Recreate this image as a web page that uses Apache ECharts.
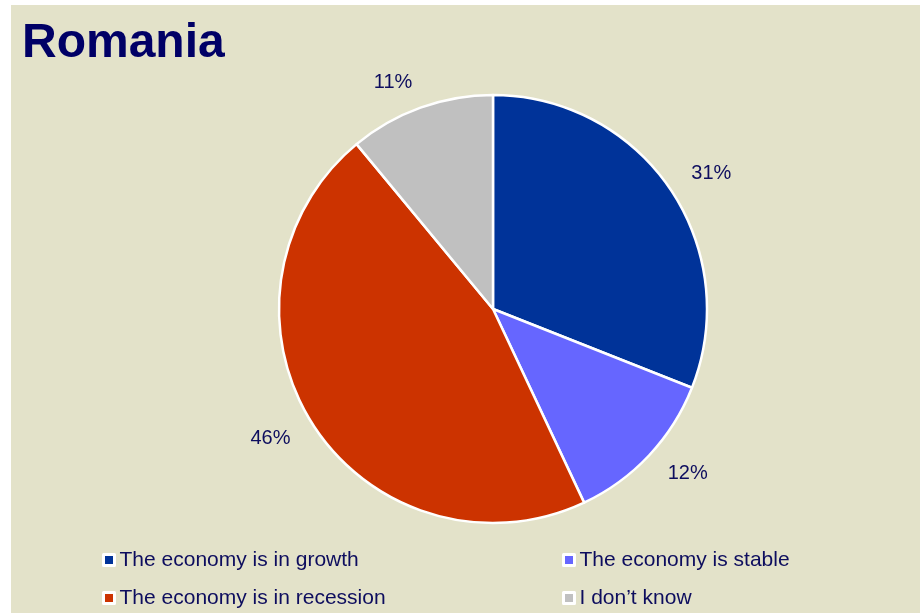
<!DOCTYPE html>
<html>
<head>
<meta charset="utf-8">
<script src="https://cdn.jsdelivr.net/npm/echarts@6/dist/echarts.min.js"></script>
<style>
html,body{margin:0;padding:0;background:#ffffff;}
#chart{width:920px;height:613px;}
</style>
</head>
<body>
<div id="chart"></div>
<script>
var titleText = 'Romania';
var categories = ['The economy is in growth', 'The economy is stable', 'The economy is in recession', 'I don\u2019t know'];
var values = [31, 12, 46, 11];
var colors = ['#003399', '#6666ff', '#cc3300', '#c0c0c0'];

var chart = echarts.init(document.getElementById('chart'), null, {renderer: 'canvas'});
var textColor = '#0d0d5e';
var fontFam = 'Liberation Sans, Arial, Helvetica, sans-serif';

var legendSlots = [[97, 544], [557, 544], [97, 582], [557, 582]];
var legends = categories.map(function (c, i) {
  return {
    left: legendSlots[i][0],
    top: legendSlots[i][1],
    icon: 'rect',
    itemWidth: 11,
    itemHeight: 11,
    itemStyle: {borderColor: '#ffffff', borderWidth: 3},
    selectedMode: false,
    textStyle: {color: textColor, fontSize: 21, fontFamily: fontFam, lineHeight: 22},
    data: [c]
  };
});

chart.setOption({
  backgroundColor: '#ffffff',
  animation: false,
  color: colors,
  graphic: [{
    type: 'rect', z: -10, silent: true,
    shape: {x: 11, y: 5, width: 909, height: 608},
    style: {fill: '#e3e2c9'}
  }],
  title: {
    text: titleText,
    left: 17,
    top: 15,
    textStyle: {color: '#000066', fontSize: 48, fontWeight: 'bold', fontFamily: fontFam}
  },
  legend: legends,
  series: [{
    type: 'pie',
    center: [493, 309],
    radius: 214,
    startAngle: 90,
    clockwise: true,
    avoidLabelOverlap: false,
    itemStyle: {borderColor: '#ffffff', borderWidth: 2.5},
    label: {
      show: true,
      position: 'outside',
      formatter: '{d}%',
      color: textColor,
      fontSize: 20,
      fontFamily: fontFam,
      distanceToLabelLine: -1
    },
    labelLine: {show: false, length: 27, length2: 0},
    emphasis: {disabled: true},
    data: categories.map(function (c, i) { return {name: c, value: values[i]}; })
  }]
});
</script>
</body>
</html>
